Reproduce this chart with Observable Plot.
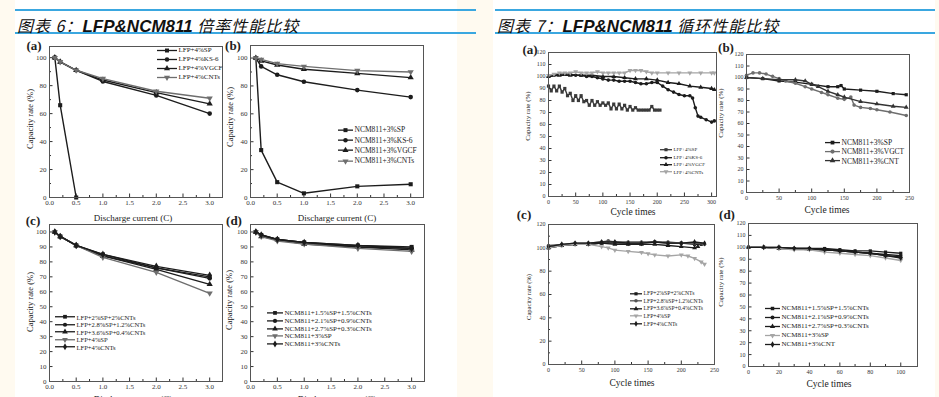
<!DOCTYPE html>
<html><head><meta charset="utf-8">
<script src="https://cdn.jsdelivr.net/npm/d3@7"></script>
<script src="https://cdn.jsdelivr.net/npm/@observablehq/plot@0.6"></script>
<style>
html,body{margin:0;padding:0;}
body{width:939px;height:397px;overflow:hidden;background:#fffaf0;position:relative;font-family:"Liberation Serif",serif;color:#222;}
.panel{position:absolute;background:#fff;top:0;height:397px;}
.rule{position:absolute;height:2px;background:#3aa7e0;}
.title{position:absolute;top:13px;font-size:16px;white-space:nowrap;color:#111;}
.title .c{font-family:"Noto Sans CJK SC",sans-serif;font-style:italic;letter-spacing:1px;}
.title .l{font-family:"Liberation Sans",Arial,sans-serif;font-style:italic;font-weight:bold;font-size:17px;}
.tag{position:absolute;font-weight:bold;font-size:13px;transform:translate(-50%,-50%);}
.ylab{position:absolute;transform:translate(-50%,-50%) rotate(-90deg);white-space:nowrap;}
.xlab{position:absolute;transform:translate(-50%,-50%);white-space:nowrap;}
.leg{position:absolute;}
.leg div{display:flex;align-items:center;white-space:nowrap;}
</style>
</head><body>
<div class="panel" style="left:15px;width:442px"></div>
<div class="panel" style="left:493px;width:442px"></div>
<div class="rule" style="left:15px;width:461px;top:9px"></div>
<div class="rule" style="left:15px;width:461px;top:32px"></div>
<div class="rule" style="left:495px;width:440px;top:9px"></div>
<div class="rule" style="left:495px;width:440px;top:32px"></div>
<div class="title" style="left:17px"><span class="c">图表 6：</span><span class="l">LFP&amp;NCM811</span><span class="c"> 倍率性能比较</span></div>
<div class="title" style="left:497px"><span class="c">图表 7：</span><span class="l">LFP&amp;NCM811</span><span class="c"> 循环性能比较</span></div>
<script>
// ---------- data: Fig 6 rate performance ----------
const rateX = [0.1, 0.2, 0.5, 1.0, 2.0, 3.0];
const rateTicks = [0, 0.5, 1.0, 1.5, 2.0, 2.5, 3.0];
const r6a_names = ["LFP+4%SP", "LFP+4%KS-6", "LFP+4%VGCF", "LFP+4%CNTs"];
const r6a_SP = [100, 66, 0];
const r6a_KS6 = [100, 97, 91, 83, 73, 60];
const r6a_VGCF = [100, 97, 91, 84, 75, 67];
const r6a_CNTs = [100, 97, 91, 85, 76, 71];
const r6b_names = ["NCM811+3%SP", "NCM811+3%KS-6", "NCM811+3%VGCF", "NCM811+3%CNTs"];
const r6b_SP = [100, 34, 11, 3, 8, 9.5];
const r6b_KS6 = [100, 94, 88, 83, 77, 72];
const r6b_VGCF = [100, 98, 95, 92, 89, 86];
const r6b_CNTs = [100, 99, 96, 94, 91, 90];
const r6c_names = ["LFP+2%SP+2%CNTs", "LFP+2.8%SP+1.2%CNTs", "LFP+3.6%SP+0.4%CNTs", "LFP+4%SP", "LFP+4%CNTs"];
const r6c_22 = [100, 97, 91, 85, 76, 70];
const r6c_2812 = [100, 97, 91, 84, 76, 69];
const r6c_3604 = [100, 97, 91, 84, 75, 65];
const r6c_SP = [100, 97, 91, 83, 73, 59];
const r6c_CNTs = [100, 97, 91, 85, 77, 71];
const r6d_names = ["NCM811+1.5%SP+1.5%CNTs", "NCM811+2.1%SP+0.9%CNTs", "NCM811+2.7%SP+0.3%CNTs", "NCM811+3%SP", "NCM811+3%CNTs"];
const r6d_1515 = [100, 98, 95, 93, 91, 90];
const r6d_2109 = [100, 98, 95, 93, 90, 89];
const r6d_2703 = [100, 97, 95, 92, 90, 88];
const r6d_SP = [100, 97, 94, 92, 89, 87];
const r6d_CNTs = [100, 98, 95, 93, 91, 89];

// ---------- data: Fig 7 cycle performance ----------
const c7a_names = ["LFP+4%SP", "LFP+4%KS-6", "LFP+4%VGCF", "LFP+4%CNTs"];
const c7a_SP_x = [0,5,10,15,20,25,30,35,40,45,50,55,60,65,70,75,80,85,90,95,100,105,110,115,120,125,130,135,140,145,150,155,160,165,170,175,180,185,190,195,200,205];
const c7a_SP_y = [92,88,92,88,92,87,90,84,86,80,84,80,84,79,80,76,80,76,79,76,78,76,78,73,77,73,77,73,76,72,75,72,74,72,72,72,72,72,75,72,72,72];
const c7a_KS6_x = [0,10,20,30,40,50,60,70,80,90,100,110,120,130,140,150,160,170,180,190,200,210,220,230,240,250,260,265,270,275,280,290,300,305];
const c7a_KS6_y = [100,101,102,102,102,101,101,100,100,99,98,97,97,96,96,96,95,94,94,95,95,92,89,87,85,84,84,82,74,67,66,64,62,63];
const c7a_VGCF_x = [0,20,40,60,80,100,120,140,160,180,200,220,240,260,280,300,305];
const c7a_VGCF_y = [100,101,101,101,101,100,100,99,98,98,97,95,94,92,91,90,89];
const c7a_CNTs_x = [0,10,20,30,40,50,60,70,80,90,100,110,120,130,140,150,160,170,180,190,200,220,240,260,280,300,305];
const c7a_CNTs_y = [101,102,103,103,103,104,103,103,103,104,103,103,103,103,103,105,105,105,104,103,103,103,103,103,103,103,103];

const c7b_names = ["NCM811+3%SP", "NCM811+3%VGCT", "NCM811+3%CNT"];
const c7b_SP_x = [0,25,50,75,100,125,140,145,150,175,200,225,245];
const c7b_SP_y = [100,99,97,96,94,92,92,93,90,89,88,86,85];
const c7b_VGCF_x = [0,10,20,30,40,50,60,75,90,100,115,125,140,150,160,165,175,190,200,220,245];
const c7b_VGCF_y = [102,104,104,103,101,99,97,95,92,90,87,85,82,81,83,76,74,73,72,70,67];
const c7b_CNT_x = [0,25,50,75,90,100,110,125,140,150,175,200,225,245];
const c7b_CNT_y = [100,99,98,98,97,94,92,88,85,83,79,77,75,74];

const c7c_names = ["LFP+2%SP+2%CNTs", "LFP+2.8%SP+1.2%CNTs", "LFP+3.6%SP+0.4%CNTs", "LFP+4%SP", "LFP+4%CNTs"];
const c7c_22_x = [0,20,40,60,80,100,120,140,160,180,200,220,230];
const c7c_22_y = [100,102,103,103,104,104,104,104,105,104,104,103,103];
const c7c_2812_x = [0,20,40,60,80,90,100,120,140,160,180,200,220,235];
const c7c_2812_y = [102,103,104,104,105,106,105,105,105,105,105,104,104,103];
const c7c_3604_x = [0,20,40,60,80,100,120,140,160,180,200,220,225];
const c7c_3604_y = [100,102,103,103,104,103,103,103,103,102,101,100,101];
const c7c_SP_x = [0,20,40,60,80,90,100,120,140,150,160,180,200,210,220,230,235];
const c7c_SP_y = [100,102,103,103,101,100,98,97,96,95,94,93,94,93,91,88,86];
const c7c_CNTs_x = [0,20,40,60,80,100,120,140,160,180,200,220,235];
const c7c_CNTs_y = [101,103,104,104,105,105,104,104,105,104,104,105,104];

const c7d_names = ["NCM811+1.5%SP+1.5%CNTs", "NCM811+2.1%SP+0.9%CNTs", "NCM811+2.7%SP+0.3%CNTs", "NCM811+3%SP", "NCM811+3%CNT"];
const c7d_x = [0,10,20,30,40,50,60,70,80,90,100];
const c7d_1515 = [100,100,100,99,99,99,98,97,97,96,95];
const c7d_2109 = [100,100,99,99,99,98,97,96,95,94,93];
const c7d_2703 = [100,100,99,99,98,98,97,96,95,93,92];
const c7d_SP = [100,100,99,98,98,96,95,94,93,91,89];
const c7d_CNT = [100,100,100,99,99,98,97,96,95,93,91];

// ---------- styles ----------
const K = "#1c1c1c", G = "#6e6e6e", LG = "#a5a5a5";
const SQ = d3.symbolSquare, CI = d3.symbolCircle, TU = d3.symbolTriangle, DI = d3.symbolDiamond;
const TD = {draw(ctx, size) { const y = -Math.sqrt(size / (Math.sqrt(3) * 3)); const s = Math.sqrt(3);
  ctx.moveTo(0, -2 * y); ctx.lineTo(-s * y, y); ctx.lineTo(s * y, y); ctx.closePath(); }};
const syms5 = [SQ, CI, TU, TD, DI];

function S(name, x, y, color, sym) { return {name, x, y, color, sym}; }
const range = (a, b, s) => d3.range(a, b + s / 2, s);

function chart(c) {
  const ml = 26, mr = 4, mt = 4, mb = 16;
  const marks = [];
  marks.push(Plot.axisX(c.xMinor, {tickSize: -2, tickFormat: () => "", label: null}));
  marks.push(Plot.axisY(c.yMinor, {tickSize: -2, tickFormat: () => "", label: null}));
  marks.push(Plot.axisX(c.xTicks, {tickSize: -3.5, tickPadding: 6.5, tickFormat: c.xFmt, fontSize: c.fs, label: null, fill: "#333"}));
  marks.push(Plot.axisY(c.yTicks, {tickSize: -3.5, tickPadding: 6.5, fontSize: c.fs, label: null, fill: "#333"}));
  for (const s of c.series) {
    const data = s.y.map((v, i) => ({x: s.x[i], y: v}));
    marks.push(Plot.line(data, {x: "x", y: "y", stroke: s.color, strokeWidth: c.sw}));
    marks.push(Plot.dot(data, {x: "x", y: "y", symbol: s.sym, fill: s.color, r: c.r}));
  }
  marks.push(Plot.frame({stroke: "#555", strokeWidth: 1}));
  const svg = Plot.plot({
    width: c.fr - c.fl + ml + mr, height: c.fb - c.ft + mt + mb,
    marginLeft: ml, marginRight: mr, marginTop: mt, marginBottom: mb,
    x: {domain: c.xDomain, label: null}, y: {domain: c.yDomain, label: null},
    style: {background: "transparent", overflow: "visible", fontFamily: "Liberation Serif", color: "#333"},
    marks
  });
  svg.style.position = "absolute";
  svg.style.zIndex = "2";
  svg.style.left = (c.fl - ml) + "px"; svg.style.top = (c.ft - mt) + "px";
  document.body.appendChild(svg);
}

function legend(left, top, rowH, fs, lineW, series, symSize) {
  const div = document.createElement("div");
  div.className = "leg";
  div.style.zIndex = "3";
  div.style.left = left + "px"; div.style.top = (top - rowH / 2) + "px"; div.style.fontSize = fs + "px";
  for (const s of series) {
    const row = document.createElement("div");
    row.style.height = rowH + "px";
    const d = d3.symbol(s.sym, symSize)();
    row.innerHTML = `<svg width="${lineW}" height="${rowH}"><line x1="0" x2="${lineW}" y1="${rowH / 2}" y2="${rowH / 2}" stroke="${s.color}" stroke-width="1.3"/><path transform="translate(${lineW / 2},${rowH / 2})" d="${d}" fill="${s.color}"/></svg><span style="margin-left:1.5px">${s.name}</span>`;
    div.appendChild(row);
  }
  document.body.appendChild(div);
}
function text(cls, x, y, fs, str) {
  const d = document.createElement("div");
  d.className = cls; d.style.left = x + "px"; d.style.top = y + "px"; d.style.fontSize = fs + "px";
  d.style.zIndex = "3";
  d.textContent = str;
  document.body.appendChild(d);
}

const f1 = d3.format(".1f");
// ----- Fig 6 -----
const s6a = [S(r6a_names[0], rateX, r6a_SP, K, SQ), S(r6a_names[1], rateX, r6a_KS6, K, CI), S(r6a_names[2], rateX, r6a_VGCF, K, TU), S(r6a_names[3], rateX, r6a_CNTs, G, TD)];
const s6b = [S(r6b_names[0], rateX, r6b_SP, K, SQ), S(r6b_names[1], rateX, r6b_KS6, K, CI), S(r6b_names[2], rateX, r6b_VGCF, K, TU), S(r6b_names[3], rateX, r6b_CNTs, G, TD)];
const s6c = [r6c_22, r6c_2812, r6c_3604, r6c_SP, r6c_CNTs].map((v, i) => S(r6c_names[i], rateX, v, i === 3 ? G : K, syms5[i]));
const s6d = [r6d_1515, r6d_2109, r6d_2703, r6d_SP, r6d_CNTs].map((v, i) => S(r6d_names[i], rateX, v, i === 3 ? G : K, syms5[i]));
const base6 = {xDomain: [0, 3.24], xTicks: rateTicks, xMinor: range(0.25, 2.75, 0.5), xFmt: f1, fs: 7, sw: 1.4, r: 2.3};
chart({...base6, fl: 49, ft: 46, fr: 222, fb: 197, yDomain: [0, 108], yTicks: range(0, 100, 20), yMinor: range(10, 90, 20), series: s6a});
chart({...base6, fl: 250, ft: 45, fr: 423, fb: 197, yDomain: [0, 109], yTicks: range(0, 100, 20), yMinor: range(10, 90, 20), series: s6b});
chart({...base6, fl: 49, ft: 224, fr: 222, fb: 381, yDomain: [0, 105], yTicks: range(0, 100, 10), yMinor: [], series: s6c});
chart({...base6, fl: 250, ft: 224, fr: 424, fb: 381, yDomain: [0, 105], yTicks: range(0, 100, 10), yMinor: [], series: s6d});
legend(157, 50, 9, 7, 20, s6a, 16);
legend(338, 130, 10.3, 7.5, 15, s6b, 16);
legend(55, 317, 7.5, 6.6, 20, s6c, 14);
legend(267, 313, 7.8, 7, 16, s6d, 14);
text("tag", 34, 46, 13, "(a)"); text("tag", 233, 46, 13, "(b)");
text("tag", 33, 221, 13, "(c)"); text("tag", 234, 221, 13, "(d)");
text("ylab", 30, 119, 8.5, "Capacity rate (%)"); text("ylab", 230, 117, 8.5, "Capacity rate (%)");
text("ylab", 30, 302, 8.5, "Capacity rate (%)"); text("ylab", 229, 300, 8.5, "Capacity rate (%)");
text("xlab", 133, 218, 9, "Discharge current (C)"); text("xlab", 337, 218, 9, "Discharge current (C)");
text("xlab", 133, 399, 9, "Discharge current (C)"); text("xlab", 337, 399, 9, "Discharge current (C)");

// ----- Fig 7 -----
const s7a = [S(c7a_names[0], c7a_SP_x, c7a_SP_y, "#3a3a3a", SQ), S(c7a_names[1], c7a_KS6_x, c7a_KS6_y, K, CI), S(c7a_names[2], c7a_VGCF_x, c7a_VGCF_y, K, TU), S(c7a_names[3], c7a_CNTs_x, c7a_CNTs_y, LG, TD)];
const s7b = [S(c7b_names[0], c7b_SP_x, c7b_SP_y, K, SQ), S(c7b_names[1], c7b_VGCF_x, c7b_VGCF_y, G, CI), S(c7b_names[2], c7b_CNT_x, c7b_CNT_y, "#333", TU)];
const s7c = [[c7c_22_x, c7c_22_y], [c7c_2812_x, c7c_2812_y], [c7c_3604_x, c7c_3604_y], [c7c_SP_x, c7c_SP_y], [c7c_CNTs_x, c7c_CNTs_y]].map((v, i) => S(c7c_names[i], v[0], v[1], i === 3 ? LG : (i === 1 ? "#555" : K), syms5[i]));
const s7d = [c7d_1515, c7d_2109, c7d_2703, c7d_SP, c7d_CNT].map((v, i) => S(c7d_names[i], c7d_x, v, i === 3 ? LG : K, syms5[i]));
const base7 = {yDomain: [0, 120], fs: 6, sw: 1.4, r: 1.8};
chart({...base7, fl: 548, ft: 52, fr: 716, fb: 196, xDomain: [0, 309], xTicks: range(0, 300, 50), xMinor: range(25, 275, 50), yTicks: range(0, 120, 10), yMinor: [], series: s7a});
chart({...base7, fl: 746, ft: 54, fr: 909, fb: 192, xDomain: [0, 250], xTicks: range(0, 250, 50), xMinor: range(25, 225, 50), yTicks: range(0, 120, 10), yMinor: [], series: s7b});
chart({...base7, fl: 548, ft: 224, fr: 714, fb: 364, xDomain: [0, 250], xTicks: range(0, 250, 50), xMinor: range(25, 225, 50), yTicks: range(0, 120, 20), yMinor: range(10, 110, 20), series: s7c});
chart({...base7, fl: 748, ft: 223, fr: 917, fb: 366, xDomain: [0, 111], xTicks: range(0, 100, 20), xMinor: range(10, 90, 20), yTicks: range(0, 120, 10), yMinor: [], series: s7d});
legend(660, 150, 7.4, 5, 12, s7a, 10);
legend(825, 142.7, 9.2, 7.5, 15, s7b, 14);
legend(630, 293.3, 7.6, 5.7, 12, s7c, 10);
legend(765, 308.3, 9, 7, 15, s7d, 12);
text("tag", 530, 50, 13, "(a)"); text("tag", 726, 48, 13, "(b)");
text("tag", 524, 215, 13, "(c)"); text("tag", 727, 215, 13, "(d)");
text("ylab", 528, 116, 7, "Capacity rate (%)"); text("ylab", 721, 113, 7, "Capacity rate (%)");
text("ylab", 528, 297, 6.5, "Capacity rate (%)"); text("ylab", 721, 282, 7, "Capacity rate (%)");
text("xlab", 633, 212, 9.5, "Cycle times"); text("xlab", 827, 210, 9.5, "Cycle times");
text("xlab", 632, 383, 9.5, "Cycle times"); text("xlab", 829, 384, 9.5, "Cycle times");
</script>
</body></html>
